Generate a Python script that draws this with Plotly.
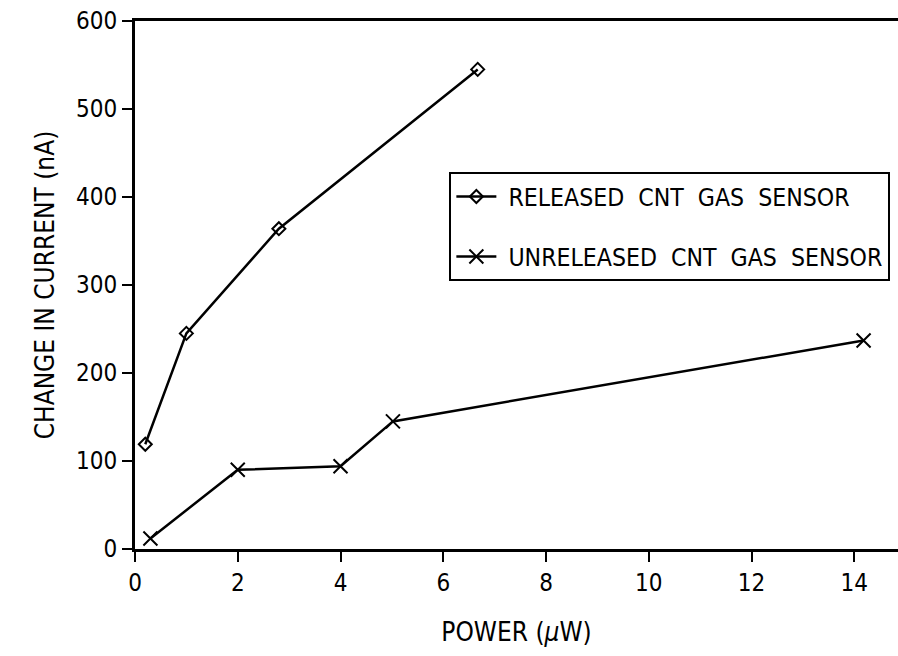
import plotly.graph_objects as go

released_x = [0.2, 1.0, 2.8, 6.67]
released_y = [119, 245, 364, 545]
unreleased_x = [0.3, 2.0, 4.0, 5.02, 14.18]
unreleased_y = [12, 90, 94, 145, 237]
x_ticks = [0, 2, 4, 6, 8, 10, 12, 14]
y_ticks = [0, 100, 200, 300, 400, 500, 600]

FONT = "Liberation Sans Narrow, Arial Narrow, DejaVu Sans Condensed, sans-serif"

fig = go.Figure()
fig.add_trace(go.Scatter(
    x=released_x, y=released_y, mode="lines+markers",
    name="\u00a0RELEASED  CNT  GAS  SENSOR", legendgroup="a",
    line=dict(color="black", width=2.5),
    marker=dict(symbol="diamond-open", size=10, color="black", line=dict(width=2)),
))
fig.add_trace(go.Scatter(
    x=unreleased_x, y=unreleased_y, mode="lines+markers",
    name="\u00a0UNRELEASED  CNT  GAS  SENSOR", legendgroup="b",
    line=dict(color="black", width=2.5),
    marker=dict(symbol="x-thin-open", size=14, color="black", line=dict(width=2, color="black")),
))

fig.update_layout(
    width=898, height=656,
    margin=dict(l=135, r=0, t=21, b=107),
    paper_bgcolor="white", plot_bgcolor="white",
    font=dict(family=FONT, color="black", size=24),
    showlegend=True,
    legend=dict(
        x=0.412, y=0.714, xanchor="left", yanchor="top",
        bordercolor="black", borderwidth=2, bgcolor="white",
        font=dict(size=24.6, family=FONT),
        tracegroupgap=25, itemwidth=40,
    ),
    xaxis=dict(
        range=[0, 14.85], tickvals=x_ticks, ticks="outside", ticklen=10,
        tickwidth=2, tickcolor="black", showline=True, linecolor="black",
        linewidth=3, mirror=True, showgrid=False, zeroline=False,
        title=dict(text="POWER (<i>μ</i>W)", font=dict(size=26), standoff=28),
        tickfont=dict(size=24),
    ),
    yaxis=dict(
        range=[0, 600], tickvals=y_ticks, ticks="outside", ticklen=10,
        tickwidth=2, tickcolor="black", showline=True, linecolor="black",
        linewidth=3, showgrid=False, zeroline=False,
        title=dict(text="CHANGE IN CURRENT (nA)", font=dict(size=26), standoff=14),
        tickfont=dict(size=24),
    ),
)

fig.write_html("out.html")
